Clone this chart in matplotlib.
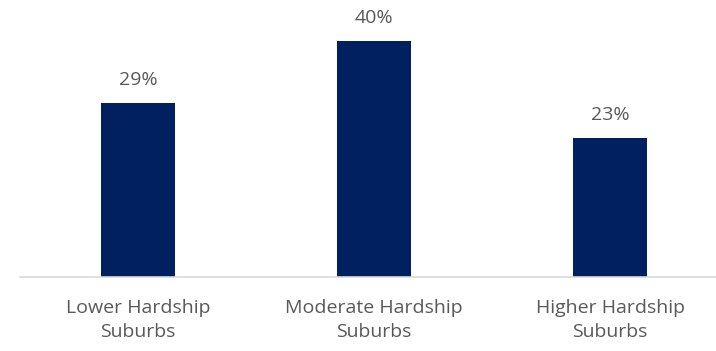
import matplotlib.pyplot as plt

categories = ["Lower Hardship\nSuburbs", "Moderate Hardship\nSuburbs", "Higher Hardship\nSuburbs"]
values = [29.3, 39.6, 23.4]
labels = ["29%", "40%", "23%"]

plt.rcParams['font.family'] = ['Open Sans', 'DejaVu Sans']

fig = plt.figure(figsize=(7.16, 3.51), dpi=100)
ax = fig.add_axes([20 / 716, 74 / 351, 696 / 716, 277 / 351])

x = range(len(categories))
bars = ax.bar(x, values, width=0.3136, color='#002060')

for b, lab in zip(bars, labels):
    ax.annotate(lab, (b.get_x() + b.get_width() / 2, b.get_height()),
                xytext=(0, 10), textcoords='offset points',
                ha='center', va='bottom', fontsize=14, color='#595959')

ax.set_xlim(-0.5, 2.449)
ax.set_ylim(0, 46.55)
ax.set_xticks(list(x))
ax.set_xticklabels(categories, fontsize=14, color='#595959', linespacing=1.4)
ax.tick_params(axis='x', length=0, pad=16)
ax.set_yticks([])
for s in ['top', 'right', 'left']:
    ax.spines[s].set_visible(False)
ax.spines['bottom'].set_color('#d9d9d9')
ax.spines['bottom'].set_linewidth(1.2)

fig.savefig('out.png', dpi=100)
